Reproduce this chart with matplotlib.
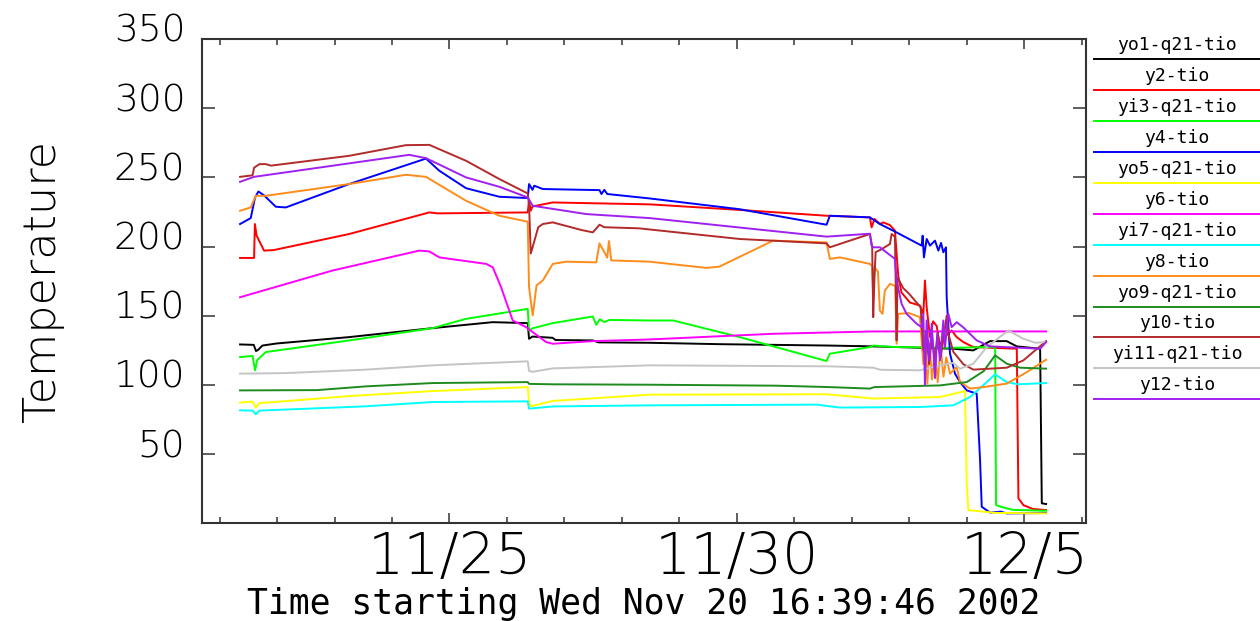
import matplotlib
matplotlib.use("Agg")
import numpy as np
import matplotlib.pyplot as plt
import matplotlib.dates as mdates
from matplotlib.ticker import FuncFormatter
from matplotlib.transforms import ScaledTranslation
from datetime import datetime

start = datetime(2002, 11, 20, 16, 39, 46)

# (days since start, temperature)
yo1 = [(0.662, 129.3), (0.90, 129.0), (0.94, 124.5), (0.98, 125.5), (1.05, 128.5), (1.3, 130.0),
       (2.561, 134.6), (4.012, 141.1), (5.057, 145.4), (5.667, 144.7), (5.69, 133.4), (5.75, 135.0),
       (6.10, 134.1), (6.15, 132.5), (6.80, 132.2), (6.90, 130.8), (7.787, 130.5), (9.0, 129.5),
       (10.9, 128.5), (11.678, 127.9), (13.071, 126.2), (13.42, 125.0), (13.711, 131.7), (14.0, 131.7),
       (14.176, 127.9), (14.582, 126.2), (14.611, 14.5), (14.686, 14.0)]
y2 = [(0.662, 191.8), (0.906, 191.8), (0.92, 216.3), (0.95, 208.0), (0.993, 204.3), (1.08, 197.1),
      (1.25, 197.5), (2.561, 209.1), (3.955, 224.7), (4.1, 224.0), (5.667, 224.7), (5.69, 233.1),
      (5.72, 226.0), (5.75, 229.0), (6.10, 231.9), (7.8, 230.5), (9.355, 226.5), (10.866, 222.3),
      (11.62, 221.1), (11.65, 213.9), (11.70, 220.0), (11.794, 216.3), (11.852, 217.5), (11.97, 215.5),
      (12.056, 211.5), (12.113, 179.0), (12.17, 166.8), (12.317, 159.6), (12.491, 157.4), (12.55, 151.4),
      (12.578, 175.5), (12.608, 156.2), (12.666, 134.6), (12.72, 146.0), (12.782, 142.6), (12.84, 128.0),
      (12.898, 134.6), (12.985, 137.0), (13.043, 139.4), (13.13, 134.6), (13.246, 131.0), (13.42, 127.4),
      (14.176, 126.2), (14.204, 18.1), (14.291, 13.2), (14.45, 10.5), (14.686, 9.6)]
yi3 = [(0.662, 120.2), (0.88, 121.0), (0.923, 110.6), (0.96, 118.0), (1.11, 123.8), (2.561, 132.2),
       (4.012, 141.1), (4.594, 147.8), (5.667, 155.0), (5.69, 139.4), (5.754, 141.0), (6.103, 144.7),
       (6.80, 149.5), (6.86, 143.5), (6.92, 147.5), (7.0, 145.5), (7.09, 147.0), (7.787, 146.6),
       (8.2, 146.6), (9.355, 134.6), (10.866, 117.3), (10.923, 122.6), (11.62, 127.4), (11.678, 128.5),
       (12.0, 127.5), (13.071, 126.9), (13.80, 127.4), (13.815, 13.2), (13.9, 12.0), (14.1, 9.8),
       (14.686, 9.1)]
y4 = [(0.662, 216.3), (0.848, 220.6), (0.923, 235.5), (0.981, 239.8), (1.08, 237.0), (1.284, 228.8),
      (1.458, 228.3), (2.561, 245.2), (3.897, 263.6), (4.129, 254.8), (4.594, 242.2), (5.174, 236.0),
      (5.667, 235.1), (5.69, 245.2), (5.75, 241.0), (5.78, 244.0), (5.929, 241.6), (6.916, 240.8),
      (6.95, 238.0), (7.0, 241.0), (7.05, 238.0), (7.787, 234.8), (9.355, 227.0), (10.866, 215.8),
      (10.923, 222.3), (11.62, 221.1), (11.794, 216.3), (12.026, 211.5), (12.521, 200.7), (12.538, 207.9),
      (12.56, 192.2), (12.608, 205.5), (12.666, 200.7), (12.753, 204.3), (12.811, 197.1), (12.858, 202.7),
      (12.898, 195.9), (12.944, 199.5), (12.956, 163.4), (13.014, 122.6), (13.101, 108.2), (13.188, 102.1),
      (13.305, 96.1), (13.479, 93.7), (13.537, 45.7), (13.566, 12.0), (13.711, 7.8), (13.9, 8.5),
      (14.0, 7.2), (14.686, 7.5)]
yo5 = [(0.662, 87.3), (0.88, 88.0), (0.935, 83.7), (1.0, 87.0), (1.2, 87.5), (2.561, 92.0),
       (4.012, 95.6), (5.667, 98.5), (5.69, 87.7), (5.72, 84.6), (6.103, 88.5), (7.787, 93.0),
       (10.866, 93.3), (11.678, 90.2), (12.84, 91.3), (13.275, 95.6), (13.305, 28.9), (13.333, 9.6),
       (13.8, 7.6), (14.686, 7.2)]
y6 = [(0.662, 163.4), (2.27, 182.7), (3.78, 197.1), (3.955, 196.5), (4.129, 192.2), (4.943, 187.5),
      (5.06, 185.0), (5.204, 170.6), (5.406, 146.6), (5.639, 141.8), (5.988, 131.0), (6.103, 129.8),
      (6.80, 131.7), (7.787, 132.9), (9.936, 137.0), (11.678, 138.7), (14.686, 138.7)]
yi7 = [(0.662, 81.7), (0.88, 81.5), (0.935, 78.8), (1.0, 81.5), (2.852, 84.6), (4.012, 87.7),
       (5.667, 88.2), (5.69, 82.9), (6.103, 84.5), (7.787, 85.3), (10.7, 85.8), (11.098, 83.7),
       (12.491, 84.1), (13.071, 85.3), (13.362, 91.3), (13.59, 99.7), (13.798, 107.7), (14.002, 102.1),
       (14.2, 100.5), (14.686, 101.4)]
y8 = [(0.662, 225.9), (0.848, 228.3), (0.935, 236.7), (1.11, 236.7), (2.561, 245.2), (3.549, 251.9),
      (3.897, 250.4), (4.594, 233.1), (5.174, 222.3), (5.667, 218.0), (5.69, 170.6), (5.754, 150.2),
      (5.82, 172.0), (5.929, 175.5), (6.103, 187.5), (6.336, 189.1), (6.859, 188.6), (6.916, 202.3),
      (7.0, 196.0), (7.05, 192.0), (7.08, 204.0), (7.12, 190.0), (7.787, 189.1), (8.775, 184.6),
      (9.0, 185.5), (9.936, 204.3), (10.866, 203.0), (10.923, 191.1), (11.098, 192.2), (11.62, 187.5),
      (11.66, 186.0), (11.678, 163.4), (11.70, 185.0), (11.76, 182.0), (11.794, 153.8), (11.84, 151.4),
      (11.88, 168.2), (11.969, 173.1), (12.06, 171.5), (12.085, 129.8), (12.113, 151.4), (12.3, 152.0),
      (12.491, 149.0), (12.55, 115.0), (12.58, 134.0), (12.62, 101.0), (12.66, 130.0), (12.70, 104.0),
      (12.75, 125.0), (12.80, 102.0), (12.85, 128.0), (12.90, 106.0), (12.95, 120.0), (13.014, 108.2),
      (13.13, 113.0), (13.188, 102.1), (13.362, 97.4), (13.6, 98.5), (14.002, 101.0), (14.35, 109.3),
      (14.686, 118.3)]
yo9 = [(0.662, 96.1), (2.0, 96.3), (2.852, 99.0), (4.012, 101.4), (5.667, 102.1), (5.69, 100.8),
       (6.103, 100.5), (7.787, 100.2), (10.0, 99.5), (10.9, 98.5), (11.62, 97.4), (11.7, 98.5),
       (12.84, 99.7), (13.305, 102.1), (13.6, 110.0), (13.798, 121.4), (14.002, 115.4), (14.233, 112.5),
       (14.686, 111.8)]
y10 = [(0.662, 250.4), (0.88, 251.5), (0.906, 257.0), (1.0, 259.6), (1.11, 259.6), (1.2, 258.5),
       (2.561, 265.6), (3.549, 273.3), (3.955, 273.5), (4.594, 262.0), (5.174, 248.8), (5.667, 238.4),
       (5.69, 230.0), (5.72, 195.0), (5.754, 199.9), (5.85, 214.0), (5.929, 216.3), (6.103, 217.5),
       (6.6, 212.0), (6.8, 210.3), (6.916, 215.8), (7.0, 214.0), (7.6, 213.2), (9.355, 205.5),
       (10.866, 202.3), (10.923, 199.5), (11.62, 209.1), (11.66, 200.0), (11.678, 149.0), (11.70, 178.0),
       (11.72, 196.0), (11.82, 198.0), (11.969, 201.9), (11.998, 209.1), (12.056, 207.0), (12.085, 132.2),
       (12.10, 177.8), (12.2, 170.0), (12.3, 166.0), (12.503, 156.2), (12.55, 125.0), (12.60, 139.0),
       (12.65, 115.0), (12.70, 135.0), (12.75, 118.0), (12.80, 138.0), (12.85, 120.0), (12.90, 133.0),
       (12.956, 150.0), (12.985, 137.0), (13.071, 124.0), (13.246, 115.0), (13.42, 111.1), (14.002, 112.5),
       (14.291, 117.8), (14.686, 131.7)]
yi11 = [(0.662, 108.2), (1.45, 108.6), (2.852, 111.1), (4.012, 114.2), (5.667, 117.1), (5.69, 110.1),
        (5.75, 109.5), (6.103, 112.0), (7.787, 114.2), (10.9, 113.5), (11.678, 112.5), (11.8, 111.0),
        (12.491, 110.6), (12.84, 114.2), (13.071, 116.0), (13.188, 111.8), (13.42, 115.4), (13.653, 127.4),
        (14.03, 139.4), (14.291, 133.4), (14.5, 130.5), (14.686, 131.0)]
y12 = [(0.662, 246.8), (0.906, 250.4), (3.606, 266.3), (3.897, 263.9), (4.594, 250.0), (5.174, 243.2),
       (5.667, 235.5), (5.754, 229.5), (6.685, 223.5), (7.787, 220.6), (10.866, 207.2), (11.62, 209.3),
       (11.65, 200.7), (11.678, 199.5), (11.794, 199.5), (12.056, 191.1), (12.085, 175.5), (12.172, 158.6),
       (12.259, 151.4), (12.434, 144.2), (12.521, 141.8), (12.55, 151.4), (12.578, 100.0), (12.608, 146.6),
       (12.654, 117.8), (12.695, 144.2), (12.753, 105.0), (12.793, 137.0), (12.84, 117.8), (12.898, 146.6),
       (12.927, 127.4), (12.985, 151.4), (13.043, 141.8), (13.13, 145.4), (13.246, 141.6), (13.479, 132.2),
       (13.711, 127.9), (14.582, 126.2), (14.686, 131.0)]

series = [yo1, y2, yi3, y4, yo5, y6, yi7, y8, yo9, y10, yi11, y12]
names = ["yo1-q21-tio", "y2-tio", "yi3-q21-tio", "y4-tio", "yo5-q21-tio", "y6-tio",
         "yi7-q21-tio", "y8-tio", "yo9-q21-tio", "y10-tio", "yi11-q21-tio", "y12-tio"]
colors = ["#000000", "#ff0000", "#00ff00", "#0000ff", "#ffff00", "#ff00ff",
          "#00ffff", "#ff8c1a", "#1f8a1f", "#b22a2a", "#c4c4c4", "#a020f0"]

fig = plt.figure(figsize=(12.6, 6.21), dpi=100)
ax = fig.add_axes([202 / 1260, (621 - 522.7) / 621, 884 / 1260, 483.7 / 621])

t0 = mdates.date2num(start)
for data, c in zip(series, colors):
    d = np.array([p[0] for p in data])
    v = np.array([p[1] for p in data])
    ax.plot(t0 + d, v, color=c, lw=1.4)

ax.set_xlim(t0, t0 + 15.38)
ax.set_ylim(0.5, 350)

ax.xaxis.set_major_locator(mdates.DayLocator(bymonthday=[5, 10, 15, 20, 25, 30]))
ax.xaxis.set_minor_locator(mdates.DayLocator())
ax.xaxis.set_major_formatter(FuncFormatter(
    lambda x, pos: "{}/{}".format(mdates.num2date(x).month, mdates.num2date(x).day)))
ax.set_yticks(range(50, 351, 50))

ax.tick_params(axis="x", which="both", direction="in", top=True, bottom=True, width=1.1, color="#333333")
ax.tick_params(axis="x", which="major", length=7.2, pad=6)
ax.tick_params(axis="x", which="minor", length=4.3)
ax.tick_params(axis="y", direction="in", left=True, right=True, length=9.1, width=1.1, pad=12, color="#333333")

for lab in ax.get_xticklabels():
    lab.set_fontfamily("DejaVu Sans")
    lab.set_fontweight(200)
    lab.set_fontsize(41)
for lab in ax.get_yticklabels():
    lab.set_fontfamily("DejaVu Sans")
    lab.set_fontsize(27)
    lab.set_fontweight(200)
    lab.set_transform(lab.get_transform() + ScaledTranslation(0, 0.11, fig.dpi_scale_trans))

for s in ax.spines.values():
    s.set_linewidth(1.5)
    s.set_color("#333333")

ax.set_xlabel("Time starting Wed Nov 20 16:39:46 2002", family="DejaVu Sans Mono", fontsize=25)
ax.xaxis.set_label_coords(0.5, (522.7 - 604) / 483.7)
ax.xaxis.label.set_va("center")

ax.set_ylabel("Temperature", family="DejaVu Sans", fontsize=32, fontweight=200)
ax.yaxis.set_label_coords((42 - 202) / 884, 0.5)
ax.yaxis.label.set_va("center")
ax.yaxis.label.set_ha("center")

# legend panel: label text with a coloured rule under it
lax = fig.add_axes([1094 / 1260, (621 - 410) / 621, 166 / 1260, 380 / 621])
lax.set_xlim(0, 1)
lax.set_ylim(410, 30)
lax.axis("off")
for i, (name, c) in enumerate(zip(names, colors)):
    ly = 59.3 + 30.9 * i
    lax.plot([0, 1], [ly, ly], color=c, lw=1.4, clip_on=False)
    lax.text(0.5, ly - 14, name, ha="center", va="center", fontsize=13, family="DejaVu Sans Mono")

fig.savefig("out.png", dpi=100)
